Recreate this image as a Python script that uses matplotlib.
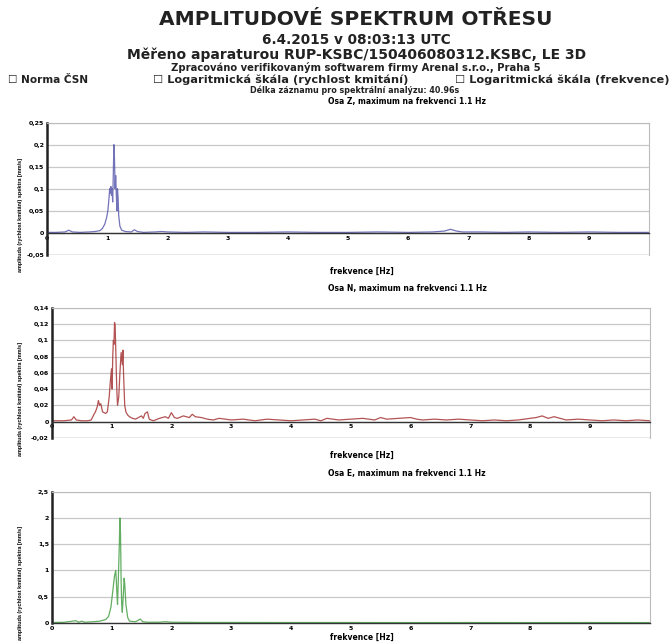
import matplotlib
matplotlib.use("Agg")
import matplotlib.pyplot as plt
from matplotlib.ticker import FuncFormatter

plt.rcParams['font.family'] = ['DejaVu Sans']

# Osa Z
fz = [0.0, 0.15, 0.3, 0.36, 0.42, 0.55, 0.7, 0.8, 0.88, 0.92, 0.96, 0.99, 1.01, 1.03, 1.04,
      1.05, 1.06, 1.07, 1.08, 1.09, 1.10, 1.11, 1.12, 1.13, 1.14, 1.15, 1.16, 1.17, 1.18, 1.19,
      1.21, 1.24, 1.3, 1.4, 1.45, 1.5, 1.6, 1.8, 1.9, 2.0, 2.3, 2.6, 3.0, 3.5, 4.0,
      4.5, 5.0, 5.5, 6.0, 6.4, 6.6, 6.7, 6.8, 6.9, 7.2, 7.6, 8.0, 8.5, 9.0, 9.5, 10.0]
az = [0.001, 0.001, 0.002, 0.006, 0.002, 0.001, 0.002, 0.003, 0.005, 0.01, 0.02, 0.035, 0.05, 0.08, 0.1,
      0.09, 0.105, 0.085, 0.1, 0.07, 0.13, 0.2, 0.17, 0.1, 0.13, 0.09, 0.05, 0.1, 0.08, 0.04,
      0.015, 0.006, 0.003, 0.002, 0.007, 0.003, 0.001, 0.002, 0.003, 0.002, 0.001, 0.002, 0.001, 0.001, 0.002,
      0.001, 0.001, 0.002, 0.001, 0.002, 0.004, 0.008, 0.004, 0.002, 0.002, 0.001, 0.002, 0.001, 0.002, 0.001, 0.001]

# Osa N
fn = [0.0, 0.2, 0.33, 0.37, 0.41, 0.5, 0.6, 0.66, 0.7, 0.73, 0.76, 0.78, 0.8, 0.82, 0.85,
      0.9, 0.93, 0.96, 0.98, 1.0, 1.01, 1.02, 1.03, 1.04, 1.05, 1.06, 1.07, 1.08, 1.09, 1.1,
      1.12, 1.14, 1.16, 1.18, 1.19, 1.2, 1.21, 1.22, 1.24, 1.27, 1.3, 1.35, 1.4, 1.45, 1.5,
      1.53, 1.56, 1.6, 1.63, 1.66, 1.7, 1.8, 1.9, 1.95, 2.0, 2.05, 2.1, 2.2, 2.3, 2.35,
      2.4, 2.5, 2.6, 2.7, 2.8, 3.0, 3.2, 3.4, 3.6, 3.8, 4.0, 4.2, 4.4, 4.5, 4.6,
      4.8, 5.0, 5.2, 5.4, 5.5, 5.6, 5.8, 6.0, 6.1, 6.2, 6.4, 6.6, 6.8, 7.0, 7.2,
      7.4, 7.6, 7.8, 8.0, 8.1, 8.2, 8.3, 8.4, 8.5, 8.6, 8.8, 9.0, 9.2, 9.4, 9.6,
      9.8, 10.0]
an = [0.001, 0.001, 0.002, 0.006, 0.002, 0.001, 0.001, 0.002, 0.008, 0.012, 0.018, 0.026, 0.02, 0.022, 0.012,
      0.01, 0.012, 0.03, 0.05, 0.065, 0.04, 0.08, 0.1, 0.095, 0.122, 0.118, 0.09, 0.06, 0.035, 0.02,
      0.03, 0.06, 0.085, 0.07, 0.088, 0.06, 0.04, 0.02, 0.012, 0.008, 0.006, 0.004, 0.003, 0.005, 0.007,
      0.004, 0.01, 0.012, 0.003, 0.002, 0.001, 0.004, 0.006, 0.004, 0.011, 0.005, 0.004, 0.007, 0.005, 0.009,
      0.006, 0.005, 0.003, 0.002, 0.004, 0.002, 0.003, 0.001, 0.003, 0.002, 0.001, 0.002, 0.003, 0.001, 0.004,
      0.002, 0.003, 0.004, 0.002, 0.005, 0.003, 0.004, 0.005, 0.003, 0.002, 0.003, 0.002, 0.003, 0.002, 0.001,
      0.002, 0.001, 0.002, 0.004, 0.005, 0.007, 0.004, 0.006, 0.004, 0.002, 0.003, 0.002, 0.001, 0.002, 0.001,
      0.002, 0.001]

# Osa E
fe = [0.0, 0.2, 0.35, 0.4, 0.45, 0.5, 0.55, 0.7, 0.8, 0.9, 0.95, 0.99, 1.02, 1.05, 1.07,
      1.08, 1.09, 1.1, 1.11, 1.13, 1.14, 1.15, 1.16, 1.17, 1.18, 1.2, 1.21, 1.22, 1.24, 1.27,
      1.3, 1.4, 1.45, 1.48, 1.52, 1.6, 1.8, 1.9, 2.0, 2.5, 3.0, 4.0, 5.0, 6.0, 7.0,
      8.0, 9.0, 10.0]
ae = [0.005, 0.008, 0.03, 0.04, 0.01, 0.03, 0.01, 0.02, 0.03, 0.06, 0.12, 0.3, 0.6, 0.9, 1.0,
      0.8, 0.55, 0.35, 0.7, 1.5, 2.0, 1.7, 0.8, 0.35, 0.2, 0.6, 0.85, 0.75, 0.35, 0.1,
      0.03, 0.02, 0.05, 0.07, 0.02, 0.01, 0.01, 0.02, 0.01, 0.005, 0.005, 0.004, 0.004, 0.003, 0.004,
      0.003, 0.004, 0.003]

panels = [
    # data, colour, y limits, y step, axes rect, title, title y, xlabel y
    (fz, az, '#5050a8', (-0.05, 0.25), 0.05, [0.070, 0.603, 0.896, 0.206],
     'Osa Z, maximum na frekvenci 1.1 Hz', 0.842, 0.578),
    (fn, an, '#a02828', (-0.02, 0.14), 0.02, [0.077, 0.318, 0.890, 0.2025],
     'Osa N, maximum na frekvenci 1.1 Hz', 0.550, 0.291),
    (fe, ae, '#3c9a3c', (0.0, 2.5), 0.5, [0.077, 0.030, 0.890, 0.204],
     'Osa E, maximum na frekvenci 1.1 Hz', 0.262, 0.008),
]

fig = plt.figure(figsize=(6.72, 6.42), dpi=100)

# header
cx = 0.53
hdr = dict(ha='center', va='center', fontweight='bold', color='#222222')
fig.text(cx, 0.970, 'AMPLITUDOVÉ SPEKTRUM OTŘESU', fontsize=14.5, **hdr)
fig.text(cx, 0.938, '6.4.2015 v 08:03:13 UTC', fontsize=9.8, **hdr)
fig.text(cx, 0.915, 'Měřeno aparaturou RUP-KSBC/150406080312.KSBC, LE 3D', fontsize=10, **hdr)
fig.text(cx, 0.895, 'Zpracováno verifikovaným softwarem firmy Arenal s.r.o., Praha 5', fontsize=7.2, **hdr)
hdr['ha'] = 'left'
fig.text(0.012, 0.876, '☐ Norma ČSN', fontsize=7.6, **hdr)
fig.text(0.228, 0.876, '☐ Logaritmická škála (rychlost kmitání)', fontsize=8.2, **hdr)
hdr['ha'] = 'right'
fig.text(0.997, 0.876, '☐ Logaritmická škála (frekvence)', fontsize=8.2, **hdr)
hdr['ha'] = 'center'
fig.text(0.528, 0.860, 'Délka záznamu pro spektrální analýzu: 40.96s', fontsize=5.8, **hdr)

fmt = FuncFormatter(lambda v, p: ('%g' % round(v, 3)).replace('.', ','))

for f, a, col, ylim, ystep, rect, title, ty, xly in panels:
    ax = fig.add_axes(rect)
    ax.plot(f, a, color=col, lw=0.9, alpha=0.8)
    ax.set_xlim(0, 10)
    ax.set_ylim(*ylim)
    nt = int(round((ylim[1] - ylim[0]) / ystep))
    ax.set_yticks([ylim[0] + i * ystep for i in range(nt + 1)])
    ax.yaxis.set_major_formatter(fmt)
    ax.set_xticks(range(10))
    ax.grid(axis='y', color='#c8c8c8', lw=0.9)
    ax.set_axisbelow(True)
    ax.spines['left'].set_linewidth(1.8)
    ax.spines['left'].set_color('#222222')
    for s in ('top', 'right'):
        ax.spines[s].set_color('#bbbbbb')
    ax.spines['bottom'].set_position(('data', 0))
    ax.spines['bottom'].set_color('#333333')
    ax.spines['bottom'].set_linewidth(1.0)
    if ylim[0] < 0:
        ax.axhline(ylim[0], color='#aaaaaa', lw=1.0)
    ax.tick_params(axis='both', length=0, labelsize=4.5, pad=2)
    for lab in ax.get_xticklabels() + ax.get_yticklabels():
        lab.set_fontweight('bold')
    fig.text(0.606, ty, title, ha='center', va='center', fontsize=5.5, fontweight='bold')
    fig.text(0.539, xly, 'frekvence [Hz]', ha='center', va='center', fontsize=5.5, fontweight='bold')
    fig.text(0.03, rect[1] + rect[3] * 0.3, 'amplituda (rychlost kmitání) spektra [mm/s]',
             rotation=90, ha='center', va='center', fontsize=4, fontweight='bold',
             family='Liberation Sans')

fig.savefig('out.png', dpi=100)
